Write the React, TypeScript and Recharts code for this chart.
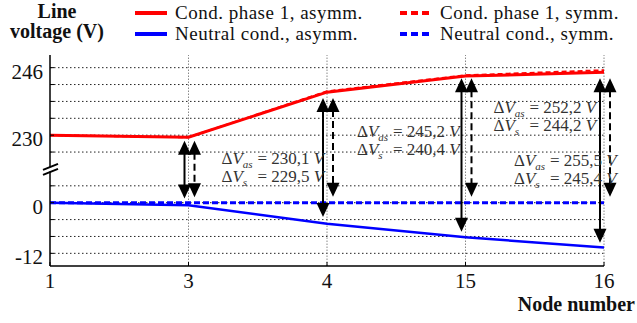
import React from 'react';
import { LineChart, Line, XAxis, YAxis, ReferenceLine, ReferenceDot } from 'recharts';

const nodes = ['1', '3', '4', '15', '16'];
const phaseAsymm = [230.0, 229.5, 240.2, 244.0, 244.9];
const phaseSymm = [230.0, 229.5, 240.4, 244.2, 245.4];
const neutralAsymm = [0, -0.6, -5.0, -8.2, -10.6];
const neutralSymm = [0, 0, 0, 0, 0];

// grid values on each side of the axis break
const upperTicks = [246, 242, 238, 234, 230, 226];
const lowerTicks = [4, 0, -4, -8, -12];
const tickLabels = ['246', '230', '0', '-12'];

// arrows + notes
const arrowNodes = ['3', '4', '15', '16'];
const dVas = ['230,1', '245,2', '252,2', '255,5'];
const dVs = ['229,5', '240,4', '244,2', '245,4'];
const asymTop = [228.7, 238.8, 243.5, 243.5];
const asymBottom = [1.0, -3.4, -6.9, -9.5];
const symTop = [228.7, 238.8, 243.5, 243.5];
const symBottom = [1.3, 1.4, 1.4, 1.4];

// broken axis: phase voltages are shifted down so 230 V sits 16 V above 0
const SHIFT = 214;
const BREAK = 8;
const toAxis = (v: number) => (v > 100 ? v - SHIFT : v);

const data = nodes.map((n, i) => ({
  node: n,
  pa: toAxis(phaseAsymm[i]),
  ps: toAxis(phaseSymm[i]),
  na: neutralAsymm[i],
  ns: neutralSymm[i],
}));

const gridValues = [...upperTicks.map(toAxis), ...lowerTicks];
const yTicks = [...gridValues, BREAK].sort((a, b) => a - b);
const labelOf = (d: number) => {
  const raw = d > BREAK ? d + SHIFT : d;
  return tickLabels.includes(String(raw)) ? String(raw) : '';
};

// note placement (px offset from node, axis units for first line)
const notePlace = [
  { dx: 33, d: 10.6 },
  { dx: 30, d: 16.9 },
  { dx: 28, d: 22.7 },
  { dx: -90, d: 10.1 },
];

const FONT = 'Liberation Serif, serif';

const YTick = ({ x, y, payload }: any) => {
  const v = payload.value;
  if (v === BREAK) {
    return (
      <g>
        <polygon points={`${x - 7},${y + 5} ${x + 8},${y - 1} ${x + 8},${y - 5} ${x - 7},${y + 1}`} fill="#fff" />
        <line x1={x - 7} y1={y + 6} x2={x + 8} y2={y} stroke="#000" strokeWidth={2} />
        <line x1={x - 7} y1={y + 1} x2={x + 8} y2={y - 5} stroke="#000" strokeWidth={2} />
      </g>
    );
  }
  return (
    <g>
      <line x1={x} y1={y} x2={x + 4} y2={y} stroke="#000" strokeWidth={1} />
      <text x={x - 7} y={y + 11} textAnchor="end" style={{ fontFamily: FONT }} fontSize={21} fill="#111">
        {labelOf(v)}
      </text>
    </g>
  );
};

const XTick = ({ x, y, payload }: any) => (
  <g>
    <line x1={x} y1={y} x2={x} y2={y - 4} stroke="#000" strokeWidth={1} />
    <text x={x} y={y + 22} textAnchor="middle" style={{ fontFamily: FONT }} fontSize={21} fill="#111">
      {payload.value}
    </text>
  </g>
);

const arrowShape = (dx: number, dashed: boolean) => (p: any) => {
  const x = p.x1 + dx;
  const top = Math.min(p.y1, p.y2);
  const bot = Math.max(p.y1, p.y2);
  const h = 14;
  const w = 6.5;
  return (
    <g>
      <line x1={x} y1={top + h - 2} x2={x} y2={bot - h + 2} stroke="#000" strokeWidth={2}
        strokeDasharray={dashed ? '7 4' : undefined} />
      <polygon points={`${x},${top} ${x - w},${top + h} ${x + w},${top + h}`} fill="#000" />
      <polygon points={`${x},${bot} ${x - w},${bot - h} ${x + w},${bot - h}`} fill="#000" />
    </g>
  );
};

const noteShape = (i: number) => (p: any) => {
  const x = p.cx + notePlace[i].dx;
  const y = p.cy + 6;
  const lines = [
    { sub: 'as', val: dVas[i] },
    { sub: 's', val: dVs[i] },
  ];
  return (
    <g style={{ fontFamily: FONT }} fontSize={17} fill="#333">
      {lines.map((l, k) => (
        <g key={k}>
          <text x={x} y={y + k * 18}>
            Δ<tspan fontStyle="italic">V</tspan>
            <tspan fontStyle="italic" fontSize={11} dy={4}>{l.sub}</tspan>
          </text>
          <text x={x + 36} y={y + k * 18}>
            = {l.val} <tspan fontStyle="italic">V</tspan>
          </text>
        </g>
      ))}
    </g>
  );
};

const legendItems = [
  { name: 'Cond. phase 1, asymm.', color: '#ff0000', dashed: false },
  { name: 'Neutral cond., asymm.', color: '#0000ff', dashed: false },
  { name: 'Cond. phase 1, symm.', color: '#ff0000', dashed: true },
  { name: 'Neutral cond., symm.', color: '#0000ff', dashed: true },
];

export default function App() {
  return (
    <div style={{ position: 'absolute', left: 0, top: 0, width: 637, height: 323, background: '#fff', fontFamily: FONT }}>
      <div style={{ position: 'absolute', left: 0, width: 114, top: 1, textAlign: 'center', fontWeight: 'bold', fontSize: 20, lineHeight: '20px', color: '#111' }}>
        Line<br />voltage (V)
      </div>
      {legendItems.map((it, i) => {
        const col = Math.floor(i / 2);
        const row = i % 2;
        return (
          <div key={it.name} style={{ position: 'absolute', left: col ? 400 : 135, top: row ? 23 : 2, height: 21, display: 'flex', alignItems: 'center', fontSize: 19, letterSpacing: 0.5, color: '#111', whiteSpace: 'nowrap' }}>
            <svg width={34} height={8} style={{ marginRight: 6 }}>
              <line x1={0} y1={4} x2={32} y2={4} stroke={it.color} strokeWidth={4} strokeDasharray={it.dashed ? '7 4' : undefined} />
            </svg>
            <span style={{ lineHeight: '21px' }}>{it.name}</span>
          </div>
        );
      })}
      <div style={{ position: 'absolute', right: 2, top: 293, fontWeight: 'bold', fontSize: 20, lineHeight: '22px', color: '#111' }}>Node number</div>
      <LineChart width={637} height={323} data={data} margin={{ top: 55, right: 33, bottom: 0, left: 0 }}>
        {gridValues.map((g) => (
          <ReferenceLine key={'h' + g} y={g} stroke="#222" strokeWidth={1} strokeDasharray="1.5 2.5" />
        ))}
        {nodes.slice(1).map((n) => (
          <ReferenceLine key={'v' + n} x={n} stroke="#888" strokeWidth={1} strokeDasharray="1.5 1.5" />
        ))}
        <XAxis dataKey="node" height={57} tickSize={0} tickMargin={0} tickLine={false} tick={<XTick />}
          axisLine={{ stroke: '#000', strokeWidth: 1.5 }} interval={0} />
        <YAxis type="number" domain={[-15, 35]} ticks={yTicks} width={50} tickSize={0} tickMargin={0}
          tickLine={false} tick={<YTick />} axisLine={{ stroke: '#000', strokeWidth: 1.5 }} interval={0} />
        <Line dataKey="pa" stroke="#ff0000" strokeWidth={3} dot={false} isAnimationActive={false} />
        <Line dataKey="ps" stroke="#ff0000" strokeWidth={2} strokeDasharray="5 3" dot={false} isAnimationActive={false} />
        <Line dataKey="na" stroke="#0000ff" strokeWidth={2.5} dot={false} isAnimationActive={false} />
        <Line dataKey="ns" stroke="#0000ff" strokeWidth={3} strokeDasharray="6 3" dot={false} isAnimationActive={false} />
        {arrowNodes.map((n, i) => (
          <ReferenceLine key={'as' + n} ifOverflow="visible"
            segment={[{ x: n, y: toAxis(asymTop[i]) }, { x: n, y: asymBottom[i] }]}
            shape={arrowShape(-4, false)} />
        ))}
        {arrowNodes.map((n, i) => (
          <ReferenceLine key={'s' + n} ifOverflow="visible"
            segment={[{ x: n, y: toAxis(symTop[i]) }, { x: n, y: symBottom[i] }]}
            shape={arrowShape(6, true)} />
        ))}
        {arrowNodes.map((n, i) => (
          <ReferenceDot key={'n' + n} x={n} y={notePlace[i].d} r={0} ifOverflow="visible" shape={noteShape(i)} />
        ))}
      </LineChart>
    </div>
  );
}
